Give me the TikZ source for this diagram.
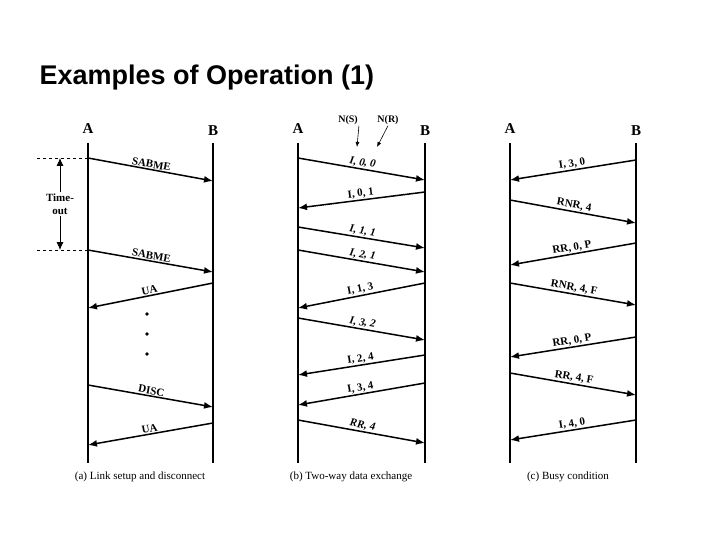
\documentclass[tikz,border=0pt]{standalone}
\usepackage{fontspec}
\setmainfont{Liberation Serif}
\newfontfamily\titlefont{Liberation Sans}
\usetikzlibrary{arrows.meta}
\begin{document}
\begin{tikzpicture}[x=1pt,y=-1pt,
  life/.style={line width=1.8pt},
  msg/.style={line width=1.5pt,-{Latex[length=9pt,width=7pt]}},
  lab/.style={font=\bfseries\fontsize{11}{12}\selectfont,inner sep=1pt},
  head/.style={font=\bfseries\fontsize{15}{16}\selectfont},
  captext/.style={font=\fontsize{11}{12}\selectfont},
  dashline/.style={dashed,line width=0.8pt}]
\useasboundingbox (0,0) rectangle (720,540);
\node[anchor=west,font=\titlefont\bfseries\fontsize{27}{30}\selectfont] (title) at (36,78) {Examples of Operation (1)};
% panel a
\node[head] (aA) at (88,129) {A}; \node[head] (aB) at (213,131) {B};
\coordinate (aAt) at (88,143); \coordinate (aAb) at (88,463);
\coordinate (aBt) at (213,143); \coordinate (aBb) at (213,463);
\draw[life] (aAt)--(aAb); \draw[life] (aBt)--(aBb);
\coordinate (a1) at (88,158); \coordinate (b1) at (213,181);
\draw[msg] (a1) -- node[lab,midway,above,sloped]{SABME} (b1);
\coordinate (d1) at (37,158); \coordinate (d2) at (37,250);
\coordinate (a2) at (88,250); \coordinate (b2) at (213,272);
\draw[dashline] (d1)--(a1); \draw[dashline] (d2)--(a2);
\node[font=\bfseries\fontsize{11}{13}\selectfont,align=center,fill=white,inner sep=1pt] (to) at (60,204) {Time-\\out};
\coordinate (t1) at (60,158); \coordinate (t2) at (60,250);
\draw[line width=0.8pt,-{Latex[length=8pt,width=7pt]}] (to) -- (t1);
\draw[line width=0.8pt,-{Latex[length=8pt,width=7pt]}] (to) -- (t2);
\draw[msg] (a2) -- node[lab,midway,above,sloped]{SABME} (b2);
\coordinate (b3) at (213,283); \coordinate (a3) at (88,308);
\draw[msg] (b3) -- node[lab,midway,above,sloped]{UA} (a3);
\foreach \y in {314,334,354} \fill (147,\y) circle (1.8pt);
\coordinate (a4) at (88,385); \coordinate (b4) at (213,407);
\draw[msg] (a4) -- node[lab,midway,above,sloped]{DISC} (b4);
\coordinate (b5) at (213,423); \coordinate (a5) at (88,445);
\draw[msg] (b5) -- node[lab,midway,above,sloped]{UA} (a5);
\node[captext] (capa) at (140,477) {(a) Link setup and disconnect};
% panel b
\node[head] (bA) at (298,129) {A}; \node[head] (bB) at (425,131) {B};
\coordinate (bAt) at (298,143); \coordinate (bAb) at (298,463);
\coordinate (bBt) at (425,143); \coordinate (bBb) at (425,463);
\draw[life] (bAt)--(bAb); \draw[life] (bBt)--(bBb);
\node[font=\bfseries\fontsize{10}{11}\selectfont,inner sep=1pt] (ns) at (348,120) {N(S)};
\node[font=\bfseries\fontsize{10}{11}\selectfont,inner sep=1pt] (nr) at (388,120) {N(R)};
\coordinate (nsx) at (357,147); \coordinate (nrx) at (377,147);
\draw[line width=0.6pt,-{Latex[length=5pt,width=4pt]}] (ns.south east) -- (nsx);
\draw[line width=0.6pt,-{Latex[length=5pt,width=4pt]}] (nr.south) -- (nrx);
\foreach \fa/\fb/\dir/\t [count=\i] in {158/180/r/{\itshape I, 0, 0},192/208/l/{I, 0, 1},227/248/r/{\itshape I, 1, 1},250/272/r/{\itshape I, 2, 1},283/308/l/{I, 1, 3},318/340/r/{\itshape I, 3, 2},355/375/l/{I, 2, 4},383/405/l/{I, 3, 4},420/443/r/{\itshape RR, 4}}{
  \if r\dir
    \coordinate (bx\i) at (298,\fa); \coordinate (by\i) at (425,\fb);
  \else
    \coordinate (bx\i) at (425,\fa); \coordinate (by\i) at (298,\fb);
  \fi
  \draw[msg] (bx\i) -- node[lab,midway,above,sloped]{\t} (by\i);}
\node[captext] (capb) at (351,477) {(b) Two-way data exchange};
% panel c
\node[head] (cA) at (510,129) {A}; \node[head] (cB) at (636,131) {B};
\coordinate (cAt) at (510,143); \coordinate (cAb) at (510,463);
\coordinate (cBt) at (636,143); \coordinate (cBb) at (636,463);
\draw[life] (cAt)--(cAb); \draw[life] (cBt)--(cBb);
\foreach \fa/\fb/\dir/\t [count=\i] in {160/180/l/{I, 3, 0},200/223/r/{RNR, 4},243/265/l/{RR, 0, P},283/305/r/{RNR, 4, F},337/357/l/{RR, 0, P},373/395/r/{RR, 4, F},420/440/l/{I, 4, 0}}{
  \if r\dir
    \coordinate (cx\i) at (510,\fa); \coordinate (cy\i) at (636,\fb);
  \else
    \coordinate (cx\i) at (636,\fa); \coordinate (cy\i) at (510,\fb);
  \fi
  \draw[msg] (cx\i) -- node[lab,midway,above,sloped]{\t} (cy\i);}
\node[captext] (capc) at (568,477) {(c) Busy condition};
\end{tikzpicture}
\end{document}
